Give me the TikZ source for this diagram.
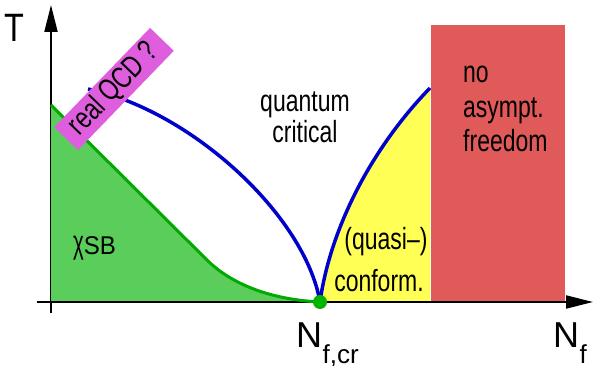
\documentclass[tikz,border=0pt]{standalone}
\usepackage{fontspec}
\usepackage{graphicx}
\setmainfont{Liberation Sans}
\usetikzlibrary{arrows.meta}
\definecolor{cblue}{RGB}{0,0,204}
\definecolor{gfill}{RGB}{90,205,90}
\definecolor{gline}{RGB}{0,170,0}
\definecolor{yfill}{RGB}{255,255,85}
\definecolor{rfill}{RGB}{224,90,90}
\definecolor{mfill}{RGB}{222,94,222}
\definecolor{gdot}{RGB}{0,180,0}
\newcommand{\vstretch}[1]{\scalebox{1}[1.33]{#1}}
\begin{document}
\begin{tikzpicture}[x=1pt,y=-1pt,
  lbl/.style={inner sep=0pt, anchor=base, font=\fontsize{23}{26}\selectfont},
  big/.style={inner sep=0pt, anchor=base west, font=\fontsize{36}{40}\selectfont},
  sub/.style={inner sep=0pt, anchor=base west, font=\fontsize{26}{28}\selectfont},
  axis/.style={line width=2pt, -{Triangle[length=27pt,width=13pt]}},
  phase/.style={line width=3.5pt, cblue},
]
\useasboundingbox (0,0) rectangle (595,366);
\coordinate (O) at (51,301);
\coordinate (ncr) at (320,302);
\coordinate (gtop) at (51,105);
\coordinate (gk) at (207,260);
\coordinate (lend) at (88,89);
\coordinate (rend) at (430,88);
\coordinate (ybot) at (51,313);
\coordinate (ytop) at (51,5);
\coordinate (xl) at (37,302);
\coordinate (xr) at (593,302);
% y axis
\draw[axis] (ybot) -- (ytop);
% regions
\fill[gfill] (gtop) -- (gk) .. controls (225,278) and (260,299) .. (ncr) -- (O) -- cycle;
\fill[yfill] (ncr) .. controls (330,230) and (370,150) .. (rend) -- (430,301) -- cycle;
\fill[rfill] (431,25) rectangle (565,301);
% x axis
\draw[axis] (xl) -- (xr);
% phase boundaries
\draw[phase] (lend) .. controls (190,110) and (305,215) .. (ncr);
\draw[phase] (ncr) .. controls (330,230) and (370,150) .. (rend);
\draw[gline, line width=3pt] (gtop) -- (gk) .. controls (225,278) and (260,299) .. (ncr);
\fill[gdot] (ncr) circle (7);
% labels
\node[lbl, rotate=46, fill=mfill, minimum width=138pt, minimum height=33pt, anchor=center] (qcd) at (114,89) {\vstretch{real QCD ?}};
\node[lbl] (qc1) at (305,112) {\vstretch{quantum}};
\node[lbl] (qc2) at (305,143) {\vstretch{critical}};
\node[lbl, anchor=base west] (na1) at (463,83) {\vstretch{no}};
\node[lbl, anchor=base west] (na2) at (463,118) {\vstretch{asympt.}};
\node[lbl, anchor=base west] (na3) at (463,152) {\vstretch{freedom}};
\node[lbl] (qs1) at (386,250) {\vstretch{(quasi–)}};
\node[lbl] (qs2) at (379,292) {\vstretch{conform.}};
\node[lbl, anchor=base west, font=\fontsize{24}{26}\selectfont] (csb) at (73,255) {\raisebox{1.5pt}{\scalebox{0.85}[1.35]{χ}}\scalebox{1}[1.07]{SB}};
\node[big] (tl) at (4,42) {\scalebox{0.9}[1.1]{T}};
\node[big] (nc) at (296,348) {N};
\node[sub] (ncs) at (nc.base east) [yshift=-15pt] {f,cr};
\node[big] (nf) at (553,348) {N};
\node[sub] (nfs) at (nf.base east) [yshift=-15pt] {f};
\end{tikzpicture}
\end{document}
